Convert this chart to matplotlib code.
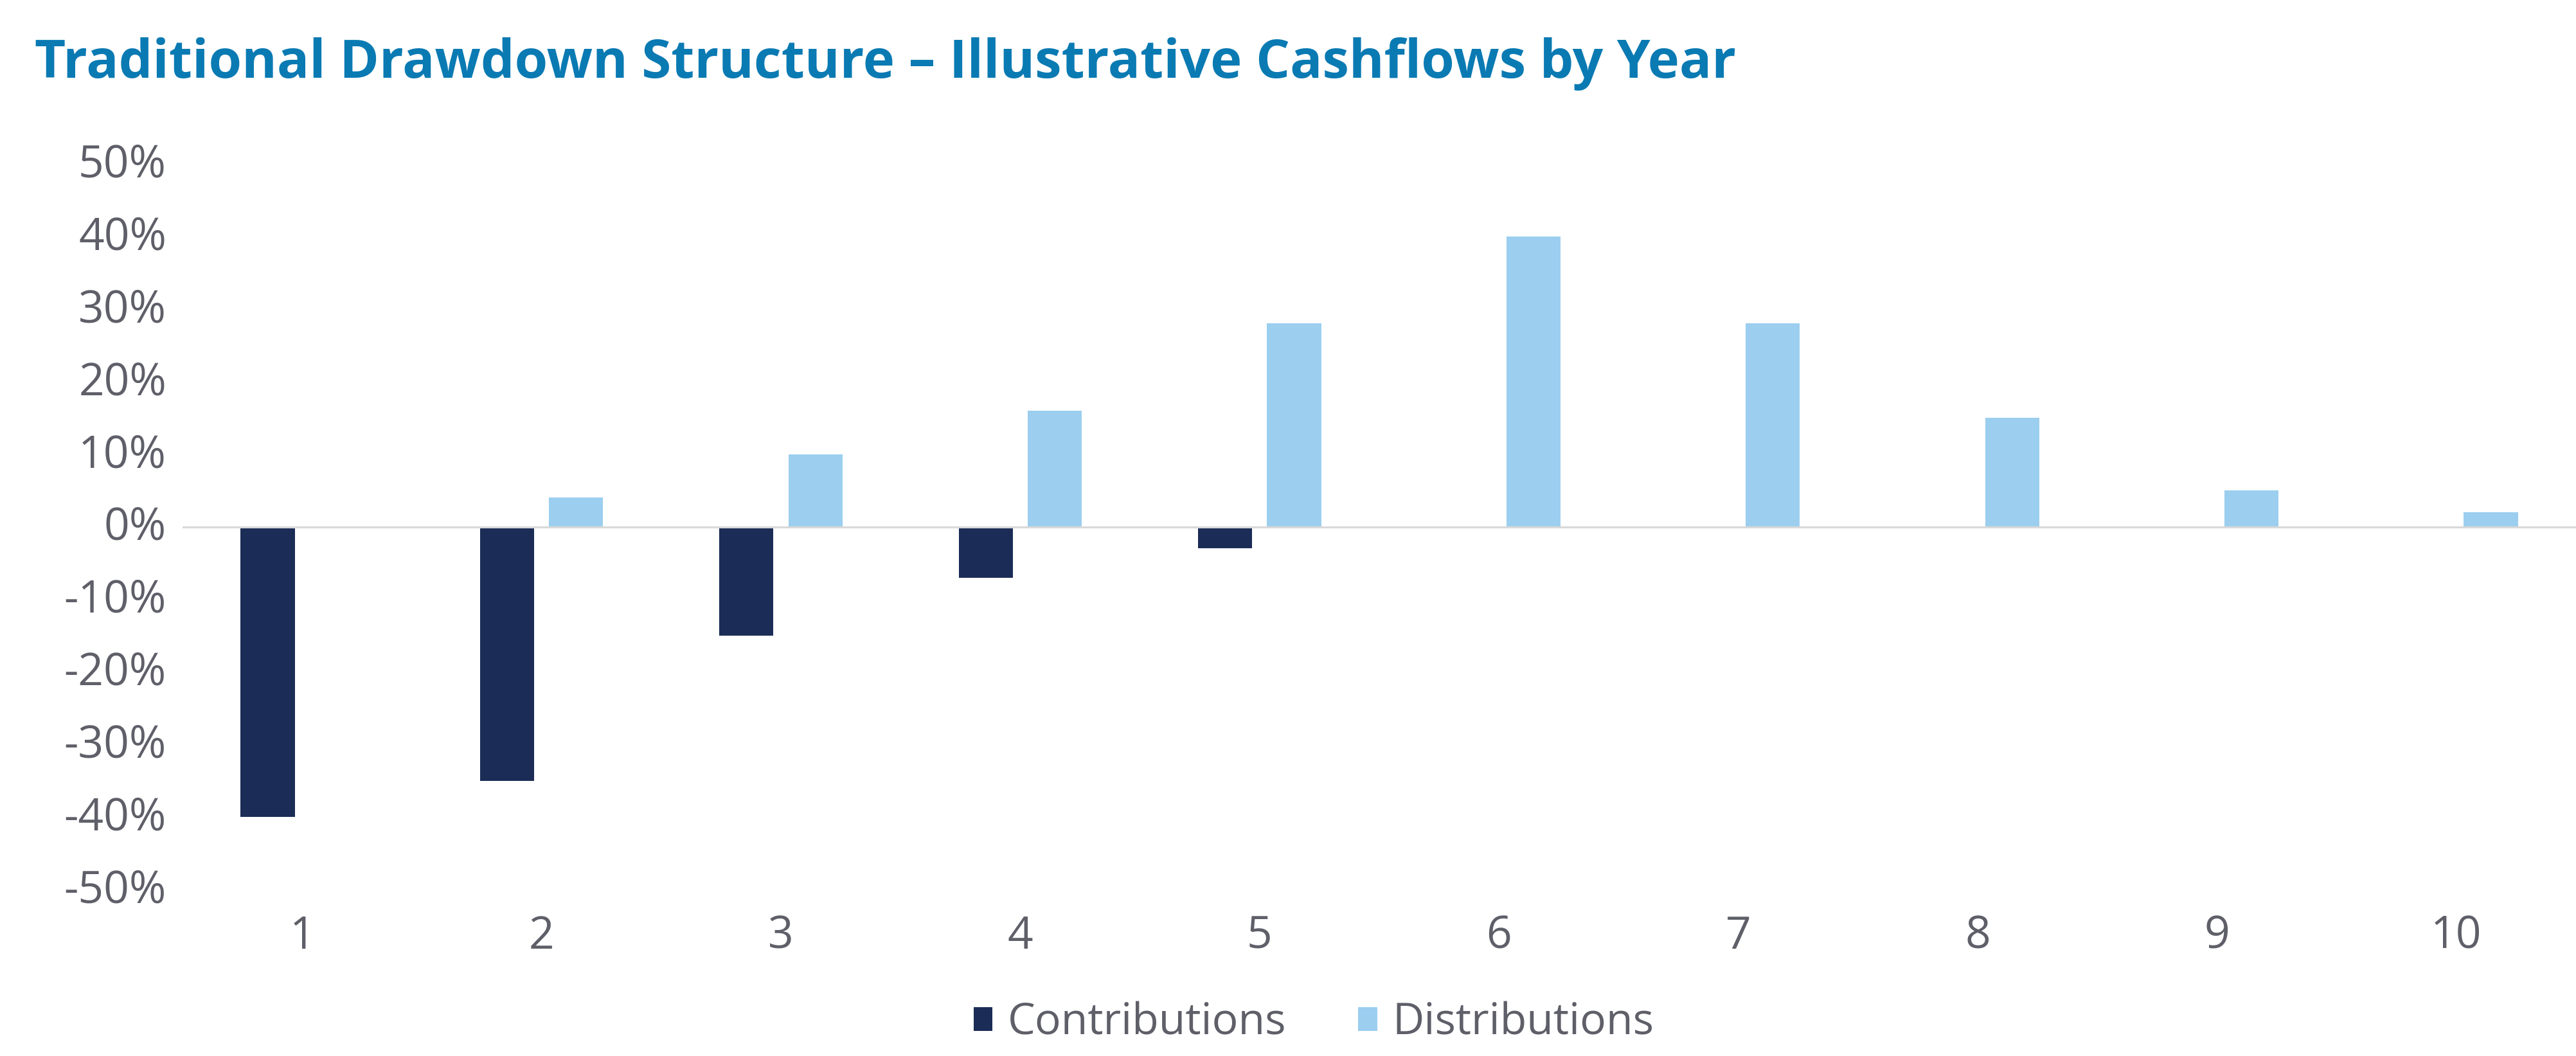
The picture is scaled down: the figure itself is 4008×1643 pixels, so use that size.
import matplotlib
matplotlib.use("Agg")
import matplotlib.pyplot as plt
import numpy as np
from matplotlib.ticker import FuncFormatter
from matplotlib.transforms import ScaledTranslation

years = ["1", "2", "3", "4", "5", "6", "7", "8", "9", "10"]
contributions = [-40.0, -35.0, -15.0, -7.0, -3.0, 0, 0, 0, 0, 0]
distributions = [0, 4.0, 10.0, 16.0, 28.0, 40.0, 28.0, 15.0, 5.0, 2.0]
yticks = [-50, -40, -30, -20, -10, 0, 10, 20, 30, 40, 50]

navy = "#1B2C56"
light = "#9BCEEF"
txt = "#5E5F68"
title_c = "#0A7AB3"

plt.rcParams['font.family'] = ['Open Sans', 'DejaVu Sans']

W, H = 4008, 1643
fig = plt.figure(figsize=(W / 100, H / 100), dpi=100)
top_px, bot_px = 255, 1384
ax = fig.add_axes([284 / W, 1 - bot_px / H, 1 - 284 / W, (bot_px - top_px) / H])

x = np.arange(len(years))
bw = 0.226
off = 0.144
c_vals = np.array(contributions)
d_vals = np.array(distributions)
ax.bar(x - off, c_vals, width=bw, color=navy, label="Contributions", zorder=2)
ax.bar(x + off, d_vals, width=bw, color=light, label="Distributions", zorder=2)
ax.axhline(0, color="#D9D9D9", lw=2.3, zorder=3)

ax.set_xlim(-0.5, len(years) - 0.5)
ax.set_ylim(-50, 50)
ax.set_yticks(yticks)
ax.yaxis.set_major_formatter(FuncFormatter(lambda v, p: f"{int(v)}%"))
ax.set_xticks(x)
ax.set_xticklabels(years)
ax.tick_params(axis="both", length=0, labelsize=50, colors=txt)
ax.tick_params(axis="y", pad=18)
ax.tick_params(axis="x", pad=28)
for s in ax.spines.values():
    s.set_visible(False)
shift = ScaledTranslation(0, 6 / 100, fig.dpi_scale_trans)
for lab in ax.get_yticklabels():
    lab.set_transform(lab.get_transform() + shift)

fig.text(54 / W, 1 - 121 / H, "Traditional Drawdown Structure \u2013 Illustrative Cashflows by Year",
         fontsize=60, fontweight="bold", color=title_c, va="baseline", ha="left")

leg = fig.legend(loc="center", bbox_to_anchor=(2044 / W, 1 - 1592 / H), ncol=2, frameon=False,
                 fontsize=49, handlelength=0.44, handleheight=0.44, handletextpad=0.34,
                 columnspacing=1.65)
for t in leg.get_texts():
    t.set_color(txt)

fig.savefig("out.png", dpi=100)
